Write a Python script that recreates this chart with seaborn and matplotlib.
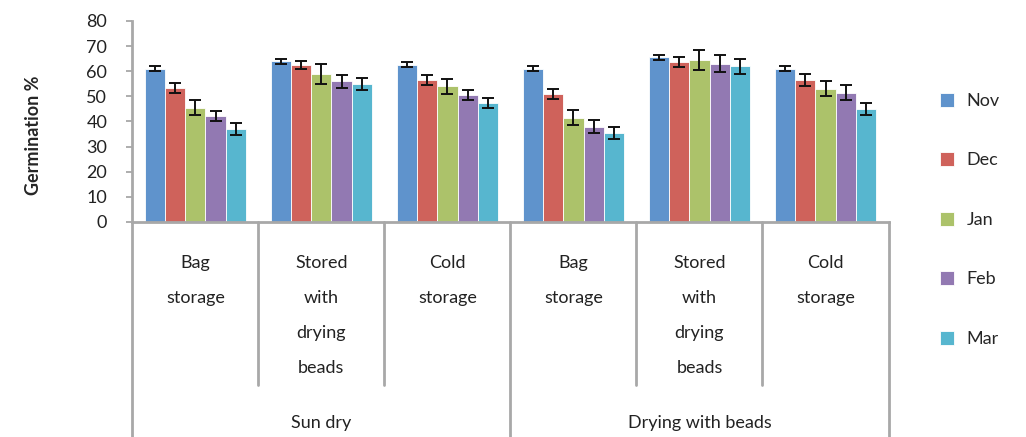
import matplotlib
matplotlib.use("Agg")
import matplotlib.pyplot as plt
import matplotlib.transforms as mtransforms
import pandas as pd
import seaborn as sns

# Category structure: drying method (outer) x storage method (inner)
drying = ["Sun dry", "Drying with beads"]
storage = ["Bag\nstorage", "Stored\nwith\ndrying\nbeads", "Cold\nstorage"]
months = ["Nov", "Dec", "Jan", "Feb", "Mar"]

# Germination % per storage cell (Sun dry x3, Drying with beads x3)
nov = [61, 64, 62.5, 61, 65.5, 61]
dec = [53.5, 62.5, 56.5, 51, 63.5, 56.5]
jan = [45.5, 59, 54, 41.5, 64.5, 53]
feb = [42, 56, 50.5, 38, 63, 51.5]
mar = [37, 55, 47.5, 35.5, 62, 45]

# Standard errors
nov_err = [1, 1, 1, 1, 1, 1]
dec_err = [2, 1.5, 2, 2, 2, 2.5]
jan_err = [3, 4, 3, 3, 4, 3]
feb_err = [2, 2.5, 2, 2.5, 3.5, 3]
mar_err = [2.5, 2.5, 2, 2.5, 3, 2.5]

colors = ["#5f93cc", "#cf625b", "#acc26a", "#9279b2", "#57b6cf"]

values = [nov, dec, jan, feb, mar]
errors = [nov_err, dec_err, jan_err, feb_err, mar_err]

cells = [f"{d} | {s}" for d in drying for s in storage]
rows = []
for m, vals in zip(months, values):
    for c, v in zip(cells, vals):
        rows.append({"cell": c, "month": m, "germ": v})
df = pd.DataFrame(rows)

sns.set_theme(style="white")
plt.rcParams["font.family"] = ["Lato", "DejaVu Sans"]

fig = plt.figure(figsize=(10.26, 4.37), dpi=100)
ax = fig.add_axes([0.129, 0.492, 0.737, 0.46])

sns.barplot(data=df, x="cell", y="germ", hue="month", order=cells,
            hue_order=months, palette=colors, errorbar=None, width=0.8,
            edgecolor="white", linewidth=0.6, saturation=1, ax=ax)

for cont, errs in zip(ax.containers, errors):
    xs = [p.get_x() + p.get_width() / 2 for p in cont]
    ys = [p.get_height() for p in cont]
    ax.errorbar(xs, ys, yerr=errs, fmt="none", ecolor="#111111",
                elinewidth=1.4, capsize=4, capthick=1.4, zorder=5)

ax.set_ylim(0, 80)
ax.set_xlim(-0.5, len(cells) - 0.5)
ax.set_yticks(range(0, 81, 10))
ax.tick_params(axis="y", labelsize=13, length=4, width=1.2, color="#a0a0a0",
               pad=14, left=True, direction="out", labelcolor="#222222")
ax.set_xticks(range(len(cells)))
ax.set_xticklabels([])
ax.tick_params(axis="x", length=0)
ax.set_xlabel("")
ax.set_ylabel("Germination %", fontsize=13, fontweight="bold", labelpad=10)
ax.yaxis.set_label_coords(-0.12, 0.43)

for side in ["top", "right"]:
    ax.spines[side].set_visible(False)
for side in ["left", "bottom"]:
    ax.spines[side].set_color("#a8a8a8")
    ax.spines[side].set_linewidth(2)

trans = mtransforms.blended_transform_factory(ax.transData, ax.transAxes)
line_kw = dict(color="#a8a8a8", lw=2, transform=trans, clip_on=False)

# Separators between storage cells (short) and drying groups (long)
n_inner = len(storage)
for i in range(len(cells) + 1):
    xb = i - 0.5
    if i % n_inner == 0:
        ax.plot([xb, xb], [0, -1.08], **line_kw)
    else:
        ax.plot([xb, xb], [0, -0.81], **line_kw)

for i, c in enumerate(cells):
    label = storage[i % n_inner]
    ax.text(i, -0.165, label, transform=trans, ha="center", va="top",
            fontsize=13, color="#222222", linespacing=2.45)

for j, d in enumerate(drying):
    xc = j * n_inner + (n_inner - 1) / 2
    ax.text(xc, -1.0, d, transform=trans, ha="center", va="center",
            fontsize=13, color="#222222")

handles, labels = ax.get_legend_handles_labels()
ax.get_legend().remove()
fig.legend(handles, labels, loc="center left", bbox_to_anchor=(0.9, 0.497),
           frameon=False, fontsize=13, labelspacing=2.4, handlelength=0.8,
           handleheight=0.8, handletextpad=0.7)

fig.savefig("out.png", dpi=100)
